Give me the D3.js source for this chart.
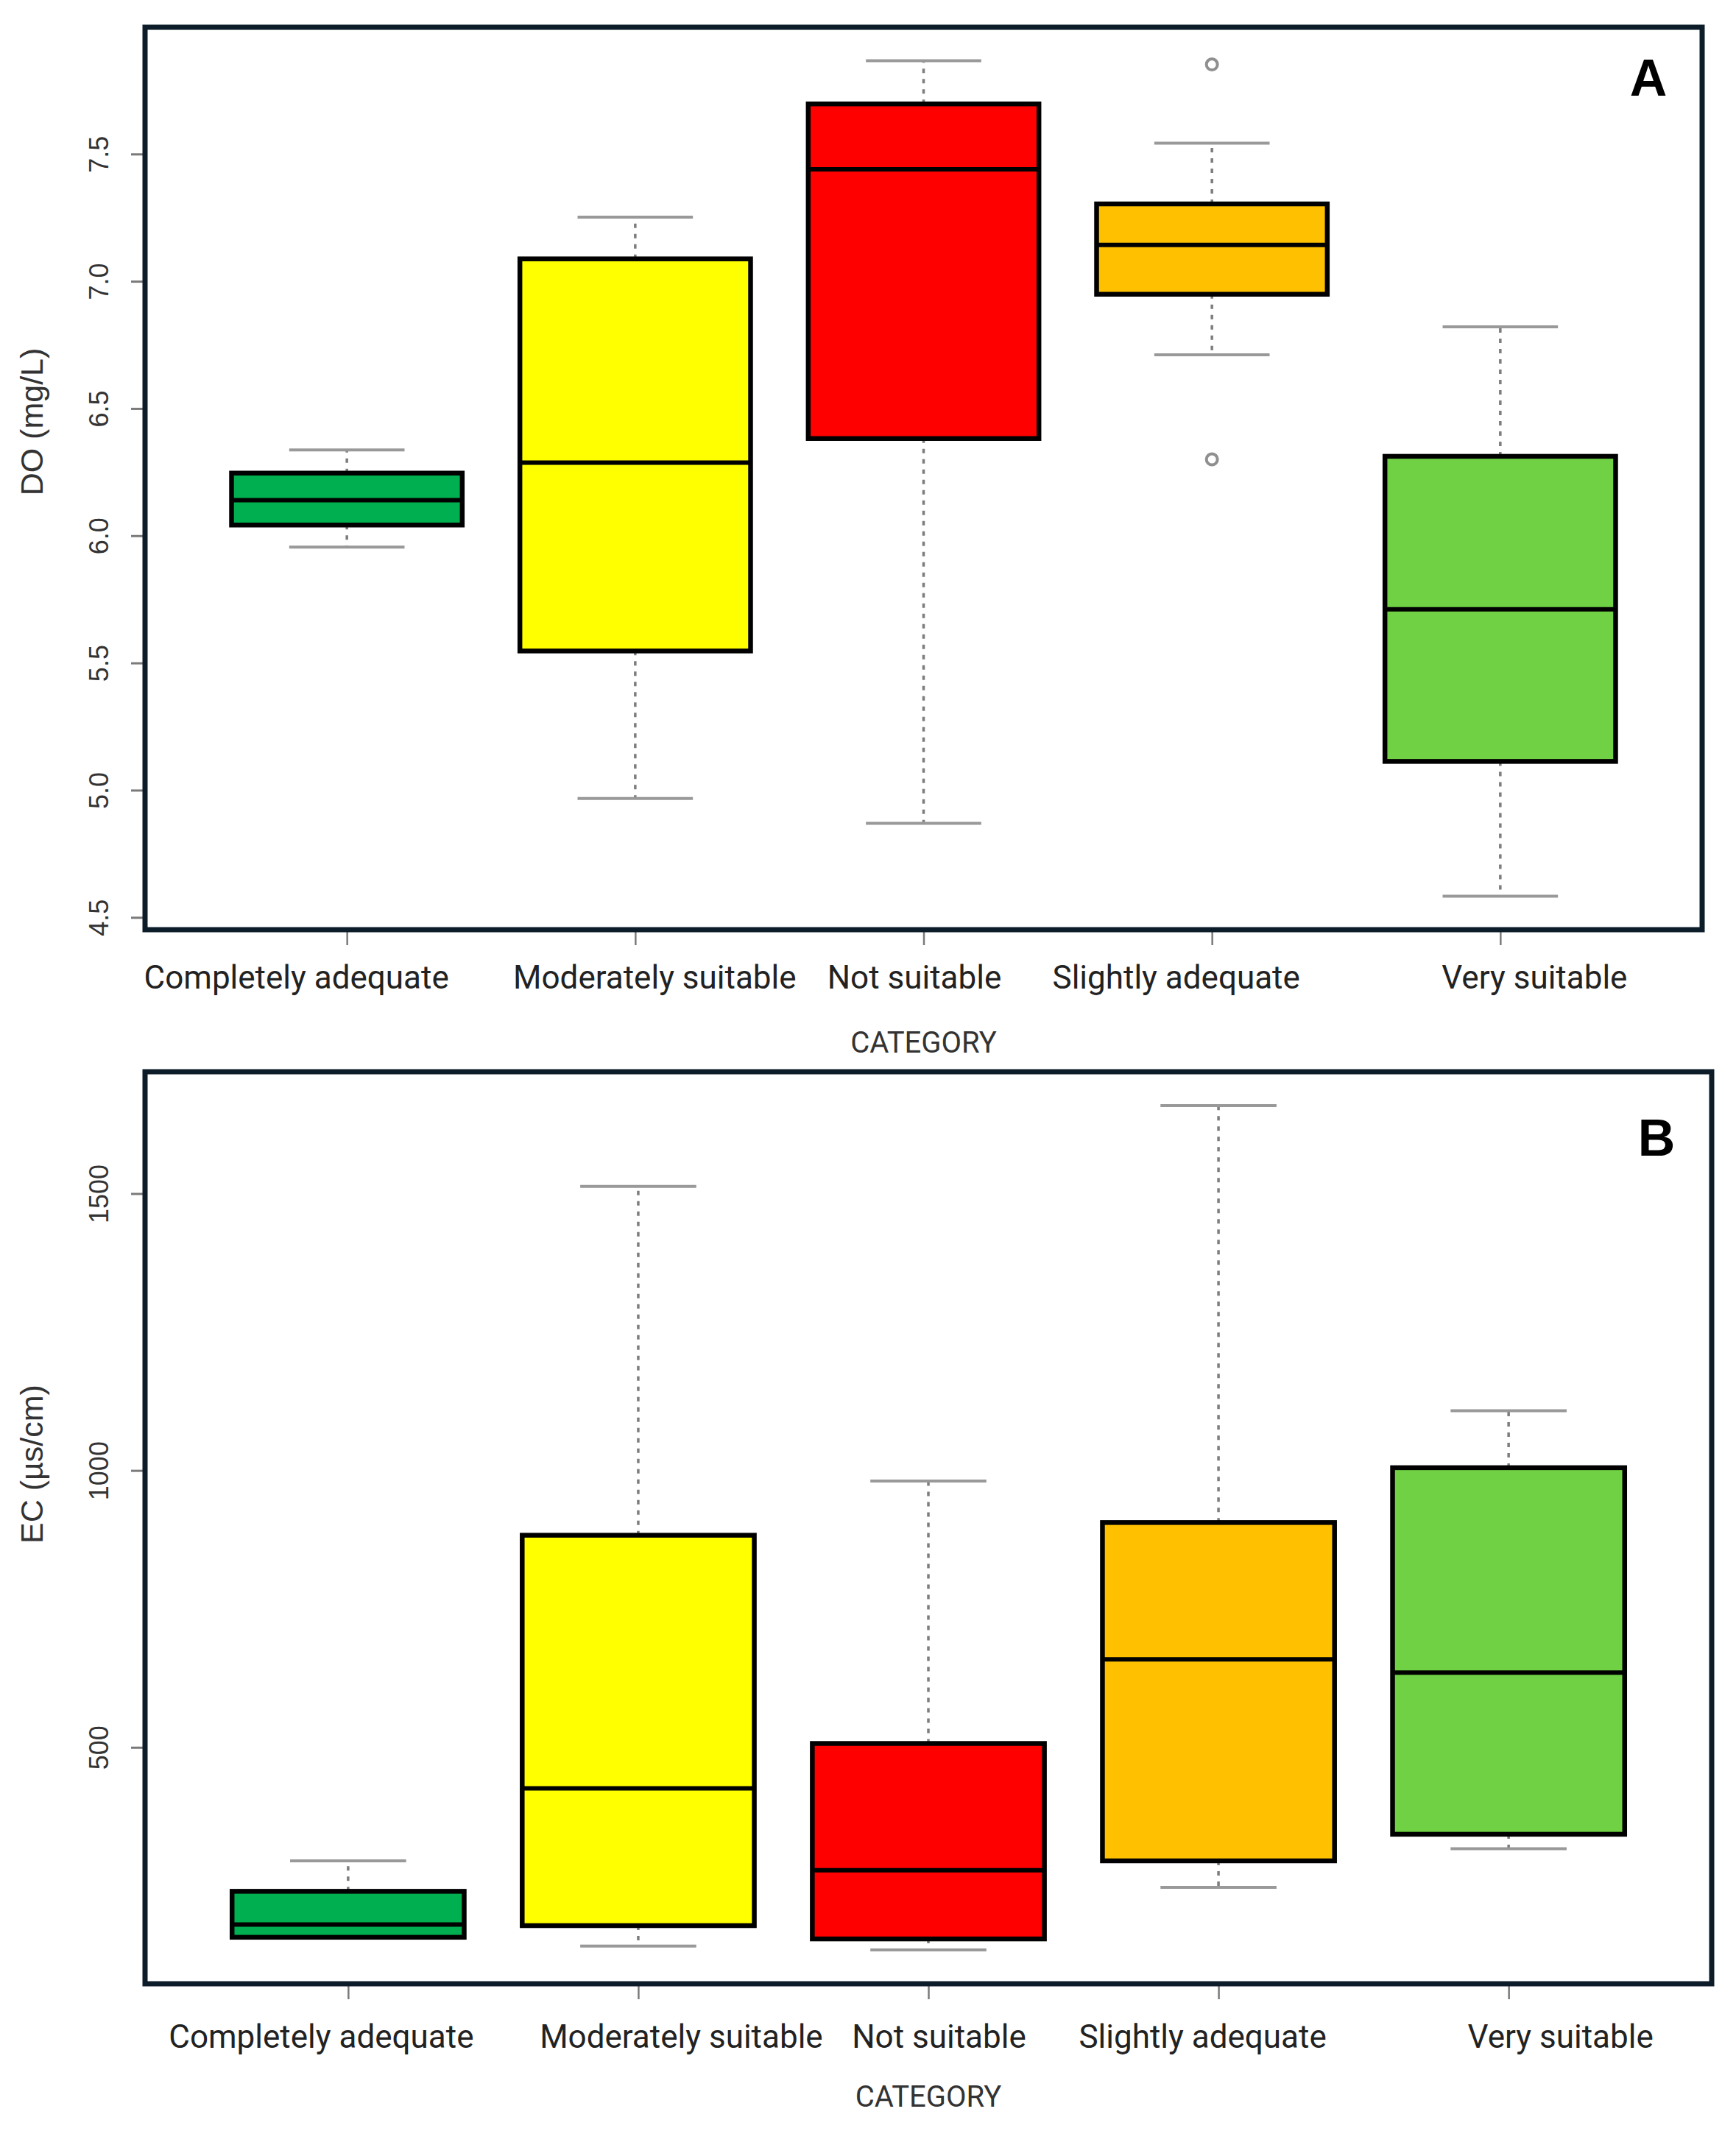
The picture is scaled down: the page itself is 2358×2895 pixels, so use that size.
<!DOCTYPE html>
<html>
<head>
<meta charset="utf-8">
<script src="https://cdn.jsdelivr.net/npm/d3@7"></script>
<style>
body{margin:0;background:#fff;}
</style>
</head>
<body>
<div id="grafico"></div>
<script>
var categorias = ["Completely adequate","Moderately suitable","Not suitable","Slightly adequate","Very suitable"];
var cores = ["#00b050","#ffff00","#ff0000","#ffc000","#6fd143"];

// painel A - DO (mg/L)
var do_min = [5.955, 4.967, 4.870, 6.711, 4.583];
var do_q1  = [6.042, 5.547, 6.382, 6.949, 5.113];
var do_med = [6.140, 6.287, 7.440, 7.143, 5.711];
var do_q3  = [6.246, 7.088, 7.697, 7.304, 6.312];
var do_max = [6.337, 7.252, 7.867, 7.543, 6.821];
var do_out = [{"cat":3,"valor":7.852},{"cat":3,"valor":6.300}];
var do_ticks = [4.5, 5.0, 5.5, 6.0, 6.5, 7.0, 7.5];

// painel B - EC (us/cm)
var ec_min = [157, 141, 134, 247, 317];
var ec_q1  = [157, 178, 154, 295, 343];
var ec_med = [180, 426, 278, 659, 635];
var ec_q3  = [240, 883, 507, 906, 1005];
var ec_max = [295, 1513, 981, 1659, 1108];
var ec_out = [];
var ec_ticks = [500, 1000, 1500];

var width = 2358;
var height = 2895;

var svgContainer = d3.select("#grafico").append("svg")
	.attr("width", width)
	.attr("height", height);

svgContainer.append("rect")
	.attr("width", width)
	.attr("height", height)
	.style("fill", "white");

var paineis = [
	{"letra":"A", "titulo":"DO (mg/L)", "min":do_min, "q1":do_q1, "med":do_med, "q3":do_q3, "max":do_max,
	 "out":do_out, "ticks":do_ticks, "fmt":".1f",
	 "x0":197, "x1":2312, "y0":37, "y1":1263, "tituloY":573, "letraX":2239, "letraY":130,
	 "labelY":1343, "catY":1430, "desloc":[-69, 26, -13, -49, 46]},
	{"letra":"B", "titulo":"EC (µs/cm)", "min":ec_min, "q1":ec_q1, "med":ec_med, "q3":ec_q3, "max":ec_max,
	 "out":ec_out, "ticks":ec_ticks, "fmt":"d",
	 "x0":197, "x1":2325, "y0":1456, "y1":2695, "tituloY":1989, "letraX":2250, "letraY":1570,
	 "labelY":2782, "catY":2862, "desloc":[-37, 58, 14, -22, 70]}
];

paineis.forEach(function(p){ desenha_painel(p); });

function desenha_painel(p){
	var g = svgContainer.append("g");

	// dominio como no R: extremos dos dados + 4%
	var todos = p.min.concat(p.max).concat(p.out.map(function(d){ return d.valor; }));
	var lo = d3.min(todos), hi = d3.max(todos);
	var pad = (hi - lo) * 0.04;

	var x = d3.scaleLinear().domain([0.3, 5.7]).range([p.x0, p.x1]);
	var y = d3.scaleLinear().domain([lo - pad, hi + pad]).range([p.y1, p.y0]);

	var caixas = categorias.map(function(c, i){
		return {"cat":c, "i":i + 1, "min":p.min[i], "q1":p.q1[i], "med":p.med[i], "q3":p.q3[i], "max":p.max[i], "cor":cores[i]};
	});

	var meia = (x(1.4) - x(1));
	var meiaStaple = (x(1.2) - x(1));

	// bigodes tracejados
	g.selectAll(".bigode_alto").data(caixas).enter().append("line")
		.attr("x1", function(d){ return x(d.i); })
		.attr("x2", function(d){ return x(d.i); })
		.attr("y1", function(d){ return y(d.q3); })
		.attr("y2", function(d){ return y(d.max); })
		.style("stroke", "#7d7d7d")
		.style("stroke-width", 3.5)
		.style("stroke-dasharray", "6,8");

	g.selectAll(".bigode_baixo").data(caixas).enter().append("line")
		.attr("x1", function(d){ return x(d.i); })
		.attr("x2", function(d){ return x(d.i); })
		.attr("y1", function(d){ return y(d.q1); })
		.attr("y2", function(d){ return y(d.min); })
		.style("stroke", "#7d7d7d")
		.style("stroke-width", 3.5)
		.style("stroke-dasharray", "6,8");

	g.selectAll(".staple_alto").data(caixas).enter().append("line")
		.attr("x1", function(d){ return x(d.i) - meiaStaple; })
		.attr("x2", function(d){ return x(d.i) + meiaStaple; })
		.attr("y1", function(d){ return y(d.max); })
		.attr("y2", function(d){ return y(d.max); })
		.style("stroke", "#999")
		.style("stroke-width", 4);

	g.selectAll(".staple_baixo").data(caixas).enter().append("line")
		.attr("x1", function(d){ return x(d.i) - meiaStaple; })
		.attr("x2", function(d){ return x(d.i) + meiaStaple; })
		.attr("y1", function(d){ return y(d.min); })
		.attr("y2", function(d){ return y(d.min); })
		.style("stroke", "#999")
		.style("stroke-width", 4);

	// caixas
	g.selectAll(".caixa").data(caixas).enter().append("rect")
		.attr("x", function(d){ return x(d.i) - meia; })
		.attr("y", function(d){ return y(d.q3); })
		.attr("width", 2 * meia)
		.attr("height", function(d){ return y(d.q1) - y(d.q3); })
		.style("fill", function(d){ return d.cor; })
		.style("stroke", "black")
		.style("stroke-width", 6.5);

	g.selectAll(".mediana").data(caixas).enter().append("line")
		.attr("x1", function(d){ return x(d.i) - meia; })
		.attr("x2", function(d){ return x(d.i) + meia; })
		.attr("y1", function(d){ return y(d.med); })
		.attr("y2", function(d){ return y(d.med); })
		.style("stroke", "black")
		.style("stroke-width", 6);

	g.selectAll(".outlier").data(p.out).enter().append("circle")
		.attr("cx", function(d){ return x(d.cat + 1); })
		.attr("cy", function(d){ return y(d.valor); })
		.attr("r", 7.5)
		.style("fill", "none")
		.style("stroke", "#8f8f8f")
		.style("stroke-width", 4);

	// eixo y
	var eixoY = g.append("g")
		.attr("transform", "translate(" + p.x0 + ",0)")
		.call(d3.axisLeft(y).tickValues(p.ticks).tickSize(19).tickFormat(d3.format(p.fmt)));
	eixoY.select(".domain").remove();
	eixoY.selectAll("line").style("stroke", "#7a7a7a").style("stroke-width", 3);
	eixoY.selectAll("text")
		.attr("transform", "rotate(-90)")
		.attr("x", 0)
		.attr("y", -50)
		.attr("dy", 0)
		.attr("text-anchor", "middle")
		.attr("font-family", "Liberation Sans, Arial, sans-serif")
		.attr("font-size", "36px")
		.attr("fill", "#333");

	// eixo x
	var eixoX = g.append("g")
		.attr("transform", "translate(0," + p.y1 + ")")
		.call(d3.axisBottom(x).tickValues([1, 2, 3, 4, 5]).tickSize(21)
			.tickFormat(function(d){ return categorias[d - 1]; }));
	eixoX.select(".domain").remove();
	eixoX.selectAll("line").style("stroke", "#7a7a7a").style("stroke-width", 2.5);
	eixoX.selectAll("text")
		.attr("y", p.labelY - p.y1)
		.attr("dy", 0)
		.attr("dx", function(d){ return p.desloc[d - 1]; })
		.attr("font-family", "Roboto, sans-serif")
		.attr("font-size", "44px")
		.attr("fill", "#222");

	// moldura
	g.append("rect")
		.attr("x", p.x0)
		.attr("y", p.y0)
		.attr("width", p.x1 - p.x0)
		.attr("height", p.y1 - p.y0)
		.style("fill", "none")
		.style("stroke", "#0c1c28")
		.style("stroke-width", 7);

	g.append("text")
		.attr("transform", "translate(58," + p.tituloY + ") rotate(-90)")
		.attr("text-anchor", "middle")
		.attr("font-family", "Liberation Sans, Arial, sans-serif")
		.attr("font-size", "43px")
		.attr("fill", "#333")
		.text(p.titulo);

	g.append("text")
		.attr("x", x(3))
		.attr("y", p.catY)
		.attr("text-anchor", "middle")
		.attr("font-family", "Roboto, sans-serif")
		.attr("font-size", "40px")
		.attr("fill", "#333")
		.text("CATEGORY");

	g.append("text")
		.attr("x", p.letraX)
		.attr("y", p.letraY)
		.attr("text-anchor", "middle")
		.attr("font-family", "Liberation Sans, Arial, sans-serif")
		.attr("font-weight", "bold")
		.attr("font-size", "70px")
		.attr("fill", "black")
		.text(p.letra);
}
</script>
</body>
</html>
